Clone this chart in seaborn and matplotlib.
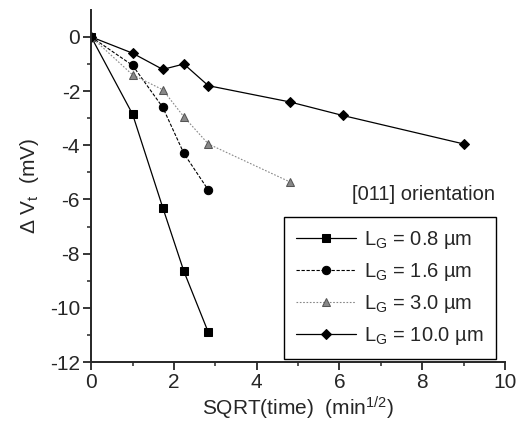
import numpy as np
import pandas as pd
import matplotlib
matplotlib.use("Agg")
import matplotlib.pyplot as plt
import seaborn as sns

# sqrt(time) in min^1/2
x_short = [0, 1, 1.73, 2.24, 2.83]
x_mid = [0, 1, 1.73, 2.24, 2.83, 4.8]
x_long = [0, 1, 1.73, 2.24, 2.83, 4.8, 6.08, 9.0]

dv_08 = [0, -2.85, -6.3, -8.65, -10.9]
dv_16 = [0, -1.05, -2.6, -4.3, -5.65]
dv_30 = [0, -1.4, -1.95, -2.95, -3.95, -5.35]
dv_100 = [0, -0.6, -1.2, -1.0, -1.8, -2.4, -2.9, -3.95]

labels = [r"L$_\mathregular{G}$ = 0.8 µm", r"L$_\mathregular{G}$ = 1.6 µm",
          r"L$_\mathregular{G}$ = 3.0 µm", r"L$_\mathregular{G}$ = 10.0 µm"]

sns.set_style("ticks")
plt.rcParams['font.family'] = ['Liberation Sans', 'DejaVu Sans']
plt.rcParams['mathtext.fontset'] = 'custom'
plt.rcParams['mathtext.rm'] = 'Liberation Sans'
plt.rcParams['mathtext.it'] = 'Liberation Sans'
plt.rcParams['axes.unicode_minus'] = False

fig = plt.figure(figsize=(5.18, 4.26), dpi=100)
ax = fig.add_axes([0.176, 0.150, 0.799, 0.827])

series = [
    (x_short, dv_08, "s", "-", "black", 0.9),
    (x_short, dv_16, "o", (0, (3, 1.5)), "black", 0.8),
    (x_mid, dv_30, "^", (0, (1.5, 1.5)), "#888888", 0.8),
    (x_long, dv_100, "D", "-", "black", 0.9),
]
for (xs, ys, mk, ls, col, lw), lab in zip(series, labels):
    df = pd.DataFrame({"x": xs, "y": ys})
    ms = 5.5 if mk == "D" else 6
    edge = "#555555" if mk == "^" else col
    sns.lineplot(data=df, x="x", y="y", ax=ax, marker=mk, linestyle=ls,
                 color=col, linewidth=lw, markersize=ms,
                 markeredgecolor=edge, label=lab)

ax.set_xlim(0, 10)
ax.set_ylim(-12, 1)
ax.set_xticks([0, 2, 4, 6, 8, 10])
ax.set_xticks([1, 3, 5, 7, 9], minor=True)
ax.set_yticks([0, -2, -4, -6, -8, -10, -12])
ax.set_yticks([-1, -3, -5, -7, -9, -11], minor=True)
ax.tick_params(axis="both", which="major", labelsize=15, length=6, width=1.3,
               direction="out", pad=2)
ax.tick_params(axis="both", which="minor", length=3, width=1.1, direction="out")
for s in ["top", "right"]:
    ax.spines[s].set_visible(False)
for s in ["left", "bottom"]:
    ax.spines[s].set_linewidth(1.4)

ax.set_xlabel(r"SQRT(time)  (min$^{1/2}$)", fontsize=15, labelpad=2)
ax.set_ylabel(r"$\Delta$ V$_\mathregular{t}$  (mV)", fontsize=15, labelpad=6)

leg = ax.legend(loc="lower right", bbox_to_anchor=(0.985, 0.0), fontsize=14.5,
                frameon=True, fancybox=False, handlelength=3.0, labelspacing=0.5,
                borderpad=0.6, handletextpad=0.4, borderaxespad=0.15)
leg.get_frame().set_edgecolor("black")
leg.get_frame().set_linewidth(1.0)
leg.get_frame().set_alpha(1)

ax.text(0.975, 0.45, "[011] orientation", transform=ax.transAxes,
        ha="right", va="bottom", fontsize=14.5)

fig.savefig("out.png", dpi=100)
